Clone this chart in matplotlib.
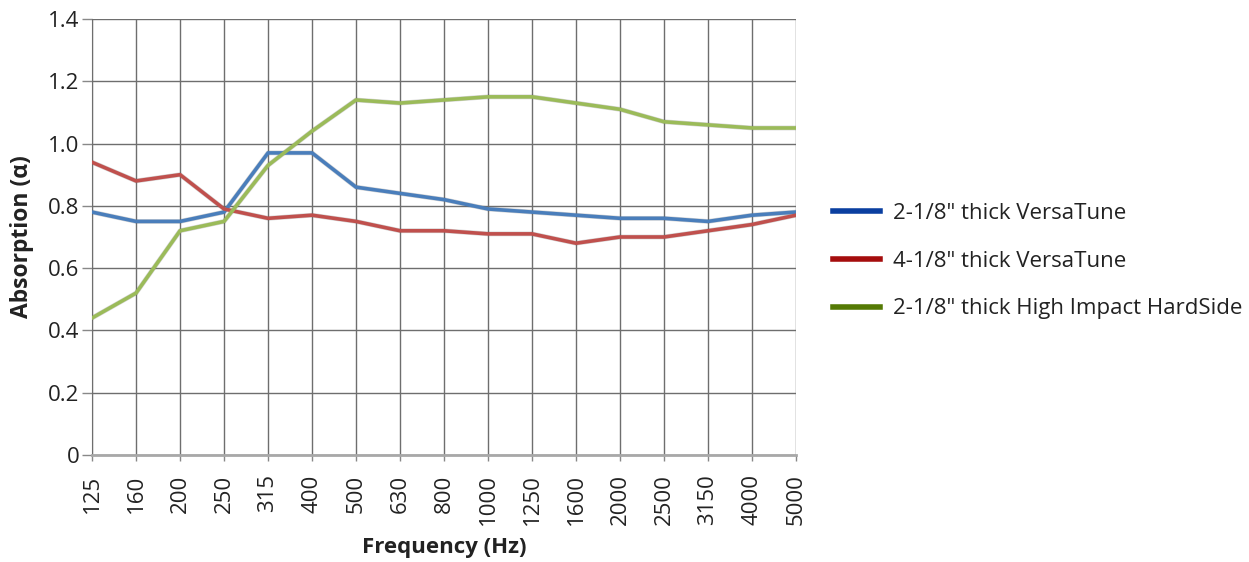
import matplotlib

matplotlib.use("Agg")
import matplotlib.pyplot as plt  # noqa: E402
from matplotlib.lines import Line2D  # noqa: E402

plt.rcParams["font.family"] = ["Open Sans", "DejaVu Sans"]

# Third-octave bands (Hz)
freqs = ["125", "160", "200", "250", "315", "400", "500", "630", "800", "1000",
         "1250", "1600", "2000", "2500", "3150", "4000", "5000"]

# Absorption coefficients
versatune_2 = [0.78, 0.75, 0.75, 0.78, 0.97, 0.97, 0.86, 0.84, 0.82, 0.79,
               0.78, 0.77, 0.76, 0.76, 0.75, 0.77, 0.78]
versatune_4 = [0.94, 0.88, 0.90, 0.79, 0.76, 0.77, 0.75, 0.72, 0.72, 0.71,
               0.71, 0.68, 0.70, 0.70, 0.72, 0.74, 0.77]
hardside_2 = [0.44, 0.52, 0.72, 0.75, 0.93, 1.04, 1.14, 1.13, 1.14, 1.15,
              1.15, 1.13, 1.11, 1.07, 1.06, 1.05, 1.05]

series_labels = ['2-1/8" thick VersaTune', '4-1/8" thick VersaTune',
                 '2-1/8" thick High Impact HardSide']
y_ticks = [0, 0.2, 0.4, 0.6, 0.8, 1.0, 1.2, 1.4]
y_ticklabels = ["0", "0.2", "0.4", "0.6", "0.8", "1.0", "1.2", "1.4"]

# plot line colours (soft, Excel-like) and the stronger legend swatches
line_colors = ["#4a7ebb", "#c0504d", "#9bbb59"]
legend_colors = ["#0a3fa0", "#a50d0d", "#557a05"]

FS = 16
TXT = "#222222"

fig = plt.figure(figsize=(12.49, 5.62), dpi=100)
ax = fig.add_axes([0.0737, 0.1904, 0.5636, 0.7758])

x = list(range(len(freqs)))
for vals, col in zip([versatune_2, versatune_4, hardside_2], line_colors):
    # faint darker underlay gives the slight shadow of the original
    ax.plot(x, vals, color="#555555", linewidth=3.4, alpha=0.25, zorder=3,
            solid_joinstyle="round")
    ax.plot(x, vals, color=col, linewidth=2.6, zorder=4, solid_joinstyle="round")

ax.set_xlim(0, len(freqs) - 1)
ax.set_ylim(0, 1.4)
ax.set_xticks(x)
ax.set_xticklabels(freqs, rotation=90, fontsize=FS, color=TXT)
ax.set_yticks(y_ticks)
ax.set_yticklabels(y_ticklabels, fontsize=FS, color=TXT)
ax.tick_params(axis="x", length=4, width=1, color="#888888", pad=10)
ax.tick_params(axis="y", length=7, width=1, color="#888888", pad=2)

ax.grid(True, color="#6e6e6e", linewidth=1.0)
ax.set_axisbelow(True)
for side in ("top", "right"):
    ax.spines[side].set_visible(False)
ax.spines["left"].set_color("#6e6e6e")
ax.spines["bottom"].set_color("#a8a8a8")
ax.spines["bottom"].set_linewidth(2)

ax.set_ylabel("Absorption (α)", fontsize=16.5, fontweight="bold", color=TXT, labelpad=10)
ax.set_xlabel("Frequency (Hz)", fontsize=16, fontweight="bold", color=TXT, labelpad=8)

handles = [Line2D([0], [0], color=c, linewidth=4) for c in legend_colors]
fig.legend(handles, series_labels, loc="center left", bbox_to_anchor=(0.651, 0.535),
           frameon=False, fontsize=FS, handlelength=2.1, handletextpad=0.6,
           labelspacing=1.2, labelcolor=TXT)

fig.savefig("out.png", dpi=100, facecolor="white")
